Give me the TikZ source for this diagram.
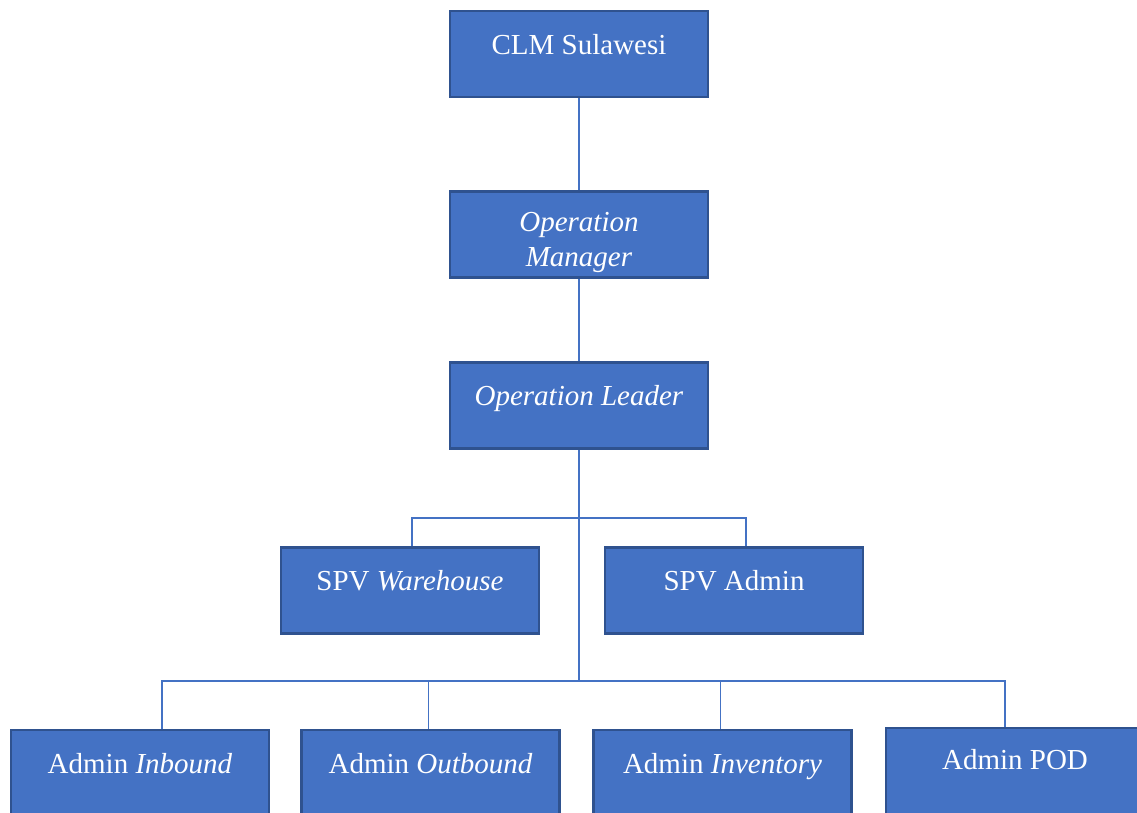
\documentclass[tikz,border=0pt]{standalone}
\usepackage{fontspec}
\setmainfont{Liberation Serif}
\usepackage{xcolor}
\usepackage{tikz}
\usetikzlibrary{positioning}

\definecolor{boxblue}{HTML}{4472C4}
\definecolor{edgeblue}{HTML}{2F528F}

\begin{document}
\begin{tikzpicture}[
        x=1pt, y=-1pt,
        every node/.style={font=\fontsize{29}{35}\selectfont},
        unit/.style={draw=edgeblue, line width=2.5pt, rectangle, fill=boxblue, text=white, text centered, minimum width=258pt, minimum height=86pt, inner sep=0pt, text height=20pt, text depth=20pt},
        twoline/.style={unit, text height=, text depth=, align=center},
        line/.style={draw=boxblue, line width=1.5pt}
    ]
        \useasboundingbox (0,0) rectangle (1137,812);
        \clip (0,0) rectangle (1137,812);

        % Units
        \node[unit] (clm) at (579,54) {CLM Sulawesi};
        \node[twoline] (opm) at (579,234.5) {\rule{0pt}{36pt}\textit{Operation}\\\textit{Manager}};
        \node[unit] (opl) at (579,405.5) {\textit{Operation Leader}};
        \node[unit] (spvw) at (410,590.5) {SPV \textit{Warehouse}};
        \node[unit] (spva) at (734,590.5) {SPV Admin};
        \node[unit] (inb) at (140,773) {Admin \textit{Inbound}};
        \node[unit] (outb) at (430.5,773) {Admin \textit{Outbound}};
        \node[unit] (inv) at (722.5,773) {Admin \textit{Inventory}};
        \node[unit, text depth=24pt] (pod) at (1015,771) {Admin POD};

        % Branch points
        \coordinate (spvbus) at (579,518);
        \coordinate (bus) at (579,681);

        % Links
        \draw[line] (clm.south) -- (opm.north);
        \draw[line] (opm.south) -- (opl.north);
        \draw[line] (opl.south) -- (bus);
        \draw[line] ([xshift=2pt]spvw.north) |- (spvbus) -| ([xshift=12pt]spva.north);
        \draw[line] ([xshift=22pt]inb.north) |- (bus) -| ([xshift=-10pt]pod.north);
        \draw[line] ([xshift=-2pt]outb.north) -- ([xshift=-2pt]outb.north |- bus);
        \draw[line] ([xshift=-2pt]inv.north) -- ([xshift=-2pt]inv.north |- bus);
    \end{tikzpicture}
\end{document}
